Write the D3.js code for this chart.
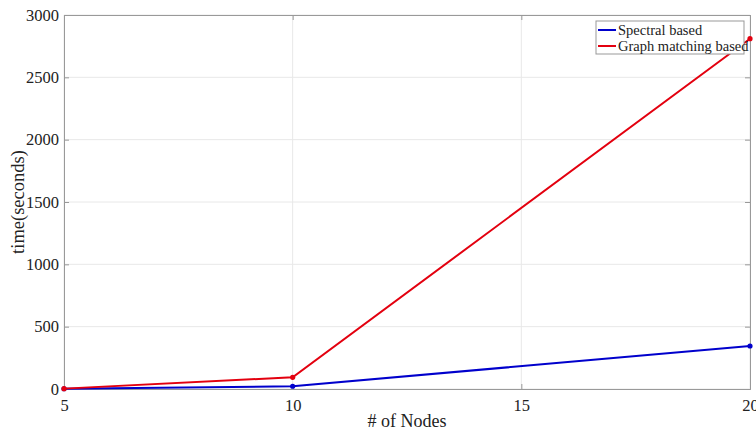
<!DOCTYPE html>
<html><head><meta charset="utf-8">
<script src="https://cdn.jsdelivr.net/npm/d3@7"></script>
<style>body{margin:0;background:#fff;} svg{display:block;}</style>
</head><body>
<script>
const nodes = [5, 10, 20];
const spectral = [2, 22, 345];
const graphMatching = [3, 94, 2810];
const seriesNames = ["Spectral based", "Graph matching based"];
const xTicks = [5, 10, 15, 20];
const yTicks = [0, 500, 1000, 1500, 2000, 2500, 3000];

const W = 756, H = 432;
const m = {left: 64, right: 6, top: 15, bottom: 43};
const svg = d3.select("body").append("svg").attr("width", W).attr("height", H);
const x = d3.scaleLinear().domain([5, 20]).range([m.left, W - m.right]);
const y = d3.scaleLinear().domain([0, 3000]).range([H - m.bottom, m.top]);
const font = "'Liberation Serif', 'Times New Roman', serif";

// grid
svg.append("g").selectAll("line.gx").data(xTicks).join("line")
  .attr("x1", d => x(d)).attr("x2", d => x(d)).attr("y1", y(0)).attr("y2", y(3000))
  .attr("stroke", "#e8e8e8").attr("stroke-width", 1);
svg.append("g").selectAll("line.gy").data(yTicks).join("line")
  .attr("x1", x(5)).attr("x2", x(20)).attr("y1", d => y(d)).attr("y2", d => y(d))
  .attr("stroke", "#e8e8e8").attr("stroke-width", 1);

// axes
const ax = svg.append("g").attr("transform", `translate(0,${y(0)})`)
  .call(d3.axisBottom(x).tickValues(xTicks).tickSize(-5).tickPadding(10).tickFormat(d3.format("d")));
const ay = svg.append("g").attr("transform", `translate(${x(5)},0)`)
  .call(d3.axisLeft(y).tickValues(yTicks).tickSize(-5).tickPadding(5).tickFormat(d3.format("d")));
const ay2 = svg.append("g").attr("transform", `translate(${x(20)},0)`)
  .call(d3.axisRight(y).tickValues(yTicks).tickSize(-5).tickFormat(""));
const ax2 = svg.append("g").attr("transform", `translate(0,${y(3000)})`)
  .call(d3.axisTop(x).tickValues(xTicks).tickSize(-5).tickFormat(""));
[ax, ay, ay2, ax2].forEach(g => {
  g.attr("font-family", font).attr("font-size", 16.5);
  g.selectAll("path.domain").attr("stroke", "#999");
  g.selectAll(".tick line").attr("stroke", "#999");
  g.selectAll("text").attr("font-family", font).attr("font-size", 16.5).attr("fill", "#222");
});

// lines
const data = [spectral, graphMatching];
const colors = ["#0000cc", "#e3000f"];
const line = d3.line().x((d, i) => x(nodes[i])).y(d => y(d));
data.forEach((s, k) => {
  svg.append("path").datum(s).attr("d", line).attr("fill", "none")
    .attr("stroke", colors[k]).attr("stroke-width", 2);
  svg.append("g").selectAll("circle").data(s).join("circle")
    .attr("cx", (d, i) => x(nodes[i])).attr("cy", d => y(d)).attr("r", 2.6).attr("fill", colors[k]);
});

// labels
svg.append("text").attr("x", (x(5) + x(20)) / 2).attr("y", 427).attr("text-anchor", "middle")
  .attr("font-family", font).attr("font-size", 18).attr("fill", "#222").text("# of Nodes");
svg.append("text").attr("transform", `translate(24,${(y(0) + y(3000)) / 2}) rotate(-90)`)
  .attr("text-anchor", "middle").attr("font-family", font).attr("font-size", 18.5).attr("fill", "#222")
  .text("time(seconds)");

// legend
const lg = svg.append("g");
lg.append("rect").attr("x", 596).attr("y", 21).attr("width", 148).attr("height", 33)
  .attr("fill", "#fff").attr("stroke", "#999").attr("stroke-width", 1);
seriesNames.forEach((n, i) => {
  const yy = 30 + i * 16;
  lg.append("line").attr("x1", 598).attr("x2", 616).attr("y1", yy).attr("y2", yy)
    .attr("stroke", colors[i]).attr("stroke-width", 2);
  lg.append("text").attr("x", 618).attr("y", yy + 5).attr("font-family", font).attr("font-size", 14.5)
    .attr("fill", "#222").text(n);
});
</script>
</body></html>
